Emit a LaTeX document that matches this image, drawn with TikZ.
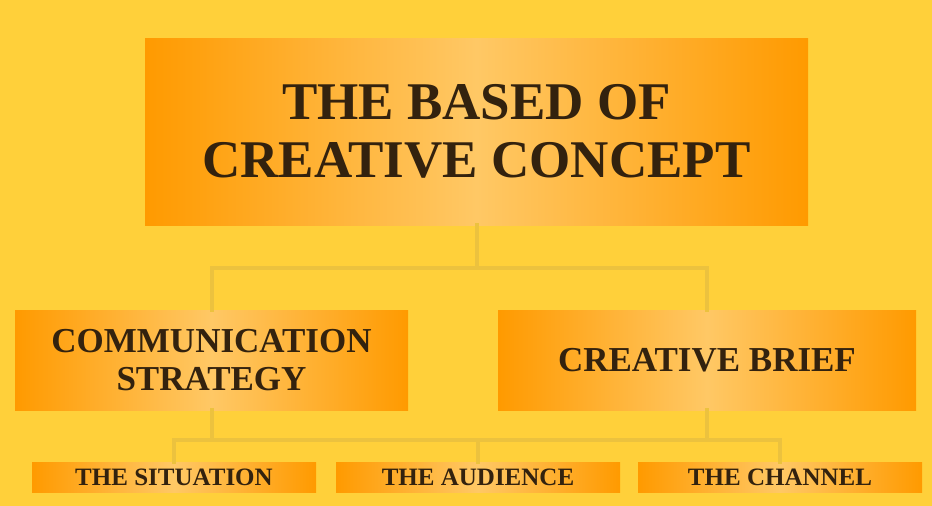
\documentclass[tikz,border=0pt]{standalone}
\usepackage{fontspec}
\setmainfont{Liberation Serif}
\definecolor{bg}{HTML}{FFD03A}
\definecolor{boxedge}{HTML}{FF9A00}
\definecolor{boxmid}{HTML}{FFC865}
\definecolor{wire}{HTML}{ECC23E}
\definecolor{ink}{HTML}{33220E}
\tikzset{
  card/.style={rectangle, draw=none, inner sep=0pt, left color=boxedge, right color=boxedge, middle color=boxmid},
  wireline/.style={draw=wire, line width=4pt, line cap=rect},
  label/.style={text=ink, font=\bfseries, align=center, inner sep=0pt},
}
\begin{document}
\begin{tikzpicture}[x=1pt,y=-1pt]
\fill[bg] (0,0) rectangle (932,506);
\useasboundingbox (0,0) rectangle (932,506);

% boxes
\node[card, minimum width=663pt, minimum height=187pt] (top) at (476.5,131.5) {};
\node[card, minimum width=393pt, minimum height=100pt] (strat) at (211.5,360) {};
\node[card, minimum width=418pt, minimum height=100pt] (brief) at (707,360) {};
\node[card, minimum width=284pt, minimum height=30pt] (sit) at (174,477) {};
\node[card, minimum width=284pt, minimum height=30pt] (aud) at (478,477) {};
\node[card, minimum width=284pt, minimum height=30pt] (chan) at (780,477) {};

% connectors
\coordinate (busA) at (0,268);
\coordinate (busB) at (0,440);
\draw[wireline] (top.south) -- (top.south |- busA);
\draw[wireline] (strat.north) -- (strat.north |- busA) -- (brief.north |- busA) -- (brief.north);
\draw[wireline] (strat.south) -- (strat.south |- busB);
\draw[wireline] (brief.south) -- (brief.south |- busB);
\draw[wireline] (sit.north) -- (sit.north |- busB) -- (chan.north |- busB) -- (chan.north);
\draw[wireline] (aud.north) -- (aud.north |- busB);

% text
\node[label, font=\bfseries\fontsize{53}{58}\selectfont] (topT) at (top.center) {THE BASED OF\\CREATIVE CONCEPT};
\node[label, font=\bfseries\fontsize{35}{38}\selectfont] (stratT) at (strat.center) {COMMUNICATION\\STRATEGY};
\node[label, font=\bfseries\fontsize{35}{38}\selectfont] (briefT) at (brief.center) {CREATIVE BRIEF};
\node[label, font=\bfseries\fontsize{25}{28}\selectfont] (sitT) at (sit.center) {THE SITUATION};
\node[label, font=\bfseries\fontsize{25}{28}\selectfont] (audT) at (aud.center) {THE AUDIENCE};
\node[label, font=\bfseries\fontsize{25}{28}\selectfont] (chanT) at (chan.center) {THE CHANNEL};
\end{tikzpicture}
\end{document}
